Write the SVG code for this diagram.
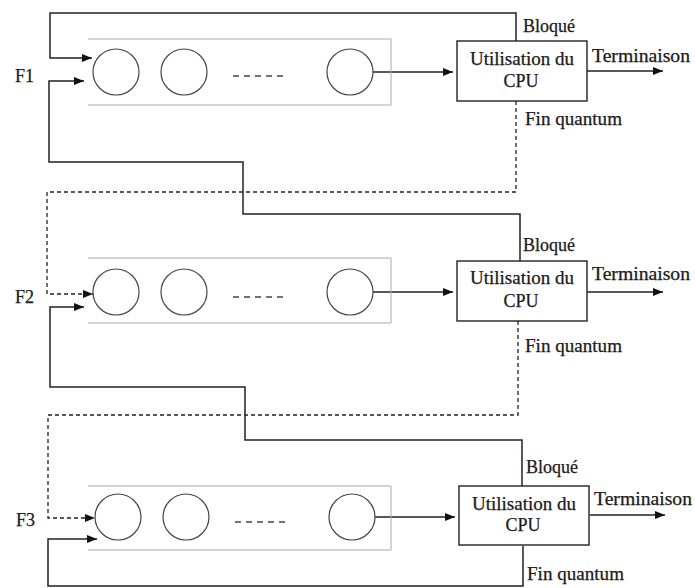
<svg xmlns="http://www.w3.org/2000/svg" width="695" height="588" viewBox="0 0 695 588">
<style>
text{font-family:"Liberation Serif","Times New Roman",serif;font-size:18px;fill:#1a1a1a;stroke:#1a1a1a;stroke-width:0.25}
.mid{text-anchor:middle}
.q{fill:none;stroke:#aaa;stroke-width:1}
.c{fill:#fff;stroke:#444;stroke-width:1.2}
.dots{fill:none;stroke:#444;stroke-width:1.3;stroke-dasharray:6,5}
.box{fill:#fff;stroke:#222;stroke-width:1.4}
.s{fill:none;stroke:#222;stroke-width:1.5;marker-end:url(#ah)}
.d{fill:none;stroke:#222;stroke-width:1.3;stroke-dasharray:4,3;marker-end:url(#ah)}
</style>
<defs>
<marker id="ah" markerUnits="userSpaceOnUse" markerWidth="11" markerHeight="9" refX="10" refY="4" orient="auto">
<path d="M0,0 L10,4 L0,8 z" fill="#111"/>
</marker>
</defs>
<rect width="695" height="588" fill="#fff"/>

<g id="connectors">
<path class="s" d="M516,41 V13 H50 V58 H92"/>
<path class="d" d="M516,101 V192 H47 V294 H93"/>
<path class="s" d="M520,261 V214 H243 V162 H49 V81 H84"/>
<path class="d" d="M518,321 V415 H48 V518 H95"/>
<path class="s" d="M522,486 V440 H245 V387 H50 V307 H84"/>
<path class="s" d="M523,546 V586 H48 V539 H97"/>
<path class="s" d="M373,72 H453"/>
<path class="s" d="M373,292 H453"/>
<path class="s" d="M375,517 H455"/>
<path class="s" d="M587,71 H663"/>
<path class="s" d="M587,292 H663"/>
<path class="s" d="M590,515 H665"/>
</g>

<g id="F1">
<text x="15" y="82">F1</text>
<path class="q" d="M88,39 H391 V105 H88"/>
<circle class="c" cx="116" cy="72" r="23"/>
<circle class="c" cx="184" cy="72" r="23"/>
<path class="dots" d="M233,76 H285"/>
<circle class="c" cx="350" cy="72" r="23"/>
</g>
<g id="CPU1">
<rect class="box" x="457" y="41" width="130" height="60"/>
<text class="mid" x="522" y="65" textLength="104" lengthAdjust="spacingAndGlyphs">Utilisation du</text>
<text class="mid" x="521" y="87">CPU</text>
<text x="523" y="32">Bloqué</text>
<text x="525" y="125" textLength="97" lengthAdjust="spacingAndGlyphs">Fin quantum</text>
<text x="592" y="62" textLength="98" lengthAdjust="spacingAndGlyphs">Terminaison</text>
</g>

<g id="F2">
<text x="15" y="303">F2</text>
<path class="q" d="M88,258 H391 V323 H88"/>
<circle class="c" cx="116" cy="292" r="23"/>
<circle class="c" cx="184" cy="292" r="23"/>
<path class="dots" d="M233,297 H285"/>
<circle class="c" cx="350" cy="292" r="23"/>
</g>
<g id="CPU2">
<rect class="box" x="457" y="261" width="130" height="60"/>
<text class="mid" x="522" y="284" textLength="104" lengthAdjust="spacingAndGlyphs">Utilisation du</text>
<text class="mid" x="521" y="307">CPU</text>
<text x="523" y="251">Bloqué</text>
<text x="525" y="352" textLength="97" lengthAdjust="spacingAndGlyphs">Fin quantum</text>
<text x="592" y="280" textLength="98" lengthAdjust="spacingAndGlyphs">Terminaison</text>
</g>

<g id="F3">
<text x="16" y="526">F3</text>
<path class="q" d="M88,486 H391 V550 H88"/>
<circle class="c" cx="118" cy="517" r="23"/>
<circle class="c" cx="186" cy="517" r="23"/>
<path class="dots" d="M235,522 H287"/>
<circle class="c" cx="352" cy="517" r="23"/>
</g>
<g id="CPU3">
<rect class="box" x="459" y="486" width="130" height="59"/>
<text class="mid" x="524" y="510" textLength="104" lengthAdjust="spacingAndGlyphs">Utilisation du</text>
<text class="mid" x="523" y="531">CPU</text>
<text x="526" y="473">Bloqué</text>
<text x="527" y="580" textLength="97" lengthAdjust="spacingAndGlyphs">Fin quantum</text>
<text x="594" y="505" textLength="98" lengthAdjust="spacingAndGlyphs">Terminaison</text>
</g>
</svg>
